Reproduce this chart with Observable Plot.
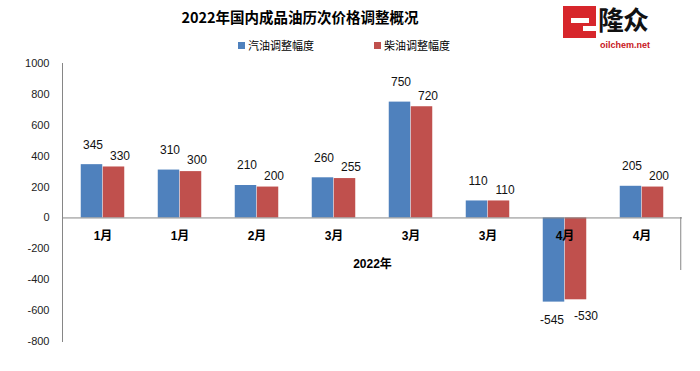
<!DOCTYPE html>
<html>
<head>
<meta charset="utf-8">
<script src="https://cdn.jsdelivr.net/npm/d3@7"></script>
<script src="https://cdn.jsdelivr.net/npm/@observablehq/plot@0.6"></script>
<style>
  html, body { margin: 0; padding: 0; background: #fff; }
  #wrap { position: relative; width: 700px; height: 371px; overflow: hidden; }
  #title { position: absolute; left: 0; width: 600px; top: 7px; text-align: center;
    font: bold 14.5px "Noto Sans CJK SC", sans-serif; line-height: 20px; color: #000; }
  #legend { position: absolute; left: 0; width: 688px; top: 37px; text-align: center;
    font: 11px "Noto Sans CJK SC", sans-serif; line-height: 16px; color: #000; }
  #legend span.item { display: inline-block; margin: 0 30px; }
  #legend span.sw { display: inline-block; width: 7px; height: 7px; margin-right: 3px; vertical-align: 1px; }
  #logo { position: absolute; left: 563px; top: 5px; width: 100px; height: 45px; }
  #logo .mark { position: absolute; left: 0; top: 1px; width: 33px; height: 32px; background: #d7262b; }
  #logo .mark .bar { position: absolute; left: 8px; top: 12px; width: 18px; height: 5px; background: #fff; }
  #logo .mark .notch { position: absolute; left: 20px; top: 20px; width: 13px; height: 5px; background: #fff; }
  #logo .cn { position: absolute; left: 35px; top: -1px; font: bold 26px "Noto Sans CJK SC", sans-serif; line-height: 30px; color: #111; letter-spacing: -1px; }
  #logo .en { position: absolute; left: 37px; top: 35px; font: bold 9px "Liberation Sans", sans-serif; line-height: 10px; color: #c8161d; white-space: nowrap; }
</style>
</head>
<body>
<div id="wrap"></div>
<script>
// ---- data ----
const chartTitle = "2022年国内成品油历次价格调整概况";
const groups = ["1月", "1月", "2月", "3月", "3月", "3月", "4月", "4月"];
const gasoline = [345, 310, 210, 260, 750, 110, -545, 205];
const diesel = [330, 300, 200, 255, 720, 110, -530, 200];
const seriesNames = ["汽油调整幅度", "柴油调整幅度"];
const seriesColors = ["#4F81BD", "#C0504D"];
const yTicks = [-800, -600, -400, -200, 0, 200, 400, 600, 800, 1000];
const yearLabel = "2022年";

const idx = d3.range(groups.length);
const gasRows = idx.map(i => ({i, value: gasoline[i]}));
const dieRows = idx.map(i => ({i, value: diesel[i]}));

const axisGray = "#868686";
const labelFont = 12;

const chart = Plot.plot({
  width: 700,
  height: 371,
  marginLeft: 62,
  marginRight: 18,
  marginTop: 63,
  marginBottom: 30,
  style: {fontFamily: "'Liberation Sans', 'Noto Sans CJK SC', sans-serif", fontSize: "11px", color: "#000", background: "#fff"},
  x: {domain: idx, padding: 0, axis: null, label: null},
  y: {domain: [-800, 1000], axis: null, label: null},
  marks: [
    Plot.frame({anchor: "left", stroke: axisGray}),
    Plot.axisY(yTicks, {tickSize: 0, tickPadding: 13, fontSize: 11, fill: "#222", label: null, tickFormat: d => String(d)}),
    Plot.barY(gasRows, {x: "i", y: "value", fill: seriesColors[0], insetLeft: 16.75, insetRight: 38.75}),
    Plot.barY(dieRows, {x: "i", y: "value", fill: seriesColors[1], insetLeft: 38.75, insetRight: 16.75}),
    Plot.ruleY([0], {stroke: axisGray}),
    Plot.ruleX([idx[idx.length - 1]], {x: d => d, dx: 38.75, insetTop: 154, insetBottom: 71, stroke: axisGray}),
    Plot.text(gasRows.filter(d => d.value > 0), {x: "i", y: "value", text: d => String(d.value), dx: -10, dy: -20, fontSize: labelFont, fill: "#111"}),
    Plot.text(dieRows.filter(d => d.value > 0), {x: "i", y: "value", text: d => String(d.value), dx: 17, dy: -11, fontSize: labelFont, fill: "#111"}),
    Plot.text(gasRows.filter(d => d.value < 0), {x: "i", y: "value", text: d => String(d.value), dx: -13, dy: 18, fontSize: labelFont, fill: "#111"}),
    Plot.text(dieRows.filter(d => d.value < 0), {x: "i", y: "value", text: d => String(d.value), dx: 21, dy: 16, fontSize: labelFont, fill: "#111"}),
    Plot.text(idx, {x: d => d, y: 0, text: i => groups[i], dy: 18, fontWeight: "bold", fontSize: 12, fill: "#000"}),
    Plot.text([yearLabel], {y: 0, text: d => d, dy: 46, fontWeight: "bold", fontSize: 12, fill: "#000"})
  ]
});

const wrap = document.getElementById("wrap");
wrap.appendChild(chart);

const titleDiv = document.createElement("div");
titleDiv.id = "title";
titleDiv.textContent = chartTitle;
wrap.appendChild(titleDiv);

const legend = document.createElement("div");
legend.id = "legend";
seriesNames.forEach((name, k) => {
  const item = document.createElement("span");
  item.className = "item";
  const sw = document.createElement("span");
  sw.className = "sw";
  sw.style.background = seriesColors[k];
  item.appendChild(sw);
  item.appendChild(document.createTextNode(name));
  legend.appendChild(item);
});
wrap.appendChild(legend);

const logo = document.createElement("div");
logo.id = "logo";
logo.innerHTML = '<div class="mark"><div class="bar"></div><div class="notch"></div></div><div class="cn">隆众</div><div class="en">oilchem.net</div>';
wrap.appendChild(logo);
</script>
</body>
</html>
